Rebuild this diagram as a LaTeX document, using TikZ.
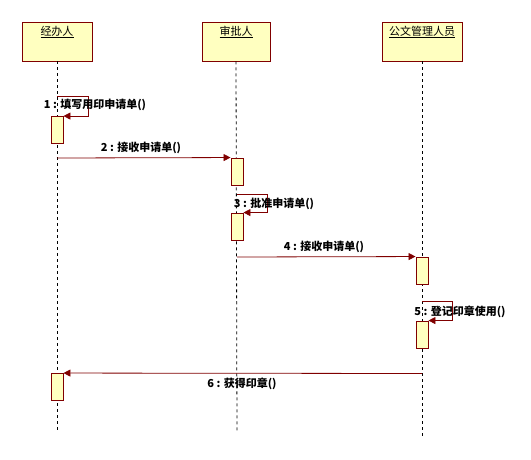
\documentclass[tikz,border=0pt]{standalone}
\usepackage{fontspec}
\setmainfont{Noto Sans CJK SC}
\usetikzlibrary{arrows.meta}

\begin{document}
\begin{tikzpicture}[x=1pt,y=-1pt,
	obj/.style={draw=umlred, fill=umlfill, line width=0.9pt, minimum height=39pt, inner sep=0pt},
	act/.style={draw=umlred, fill=umlfill, line width=0.9pt, minimum width=12pt, minimum height=27pt, inner sep=0pt},
	life/.style={dashed, dash pattern=on 3pt off 3pt, line width=0.8pt},
	msg/.style={->, >={Triangle[length=7pt,width=7pt]}, color=umlred, line width=0.8pt},
	ttl/.style={font=\fontsize{11}{12}\selectfont, inner sep=0pt},
	lbl/.style={font=\fontsize{11}{12}\selectfont\bfseries, inner sep=0pt}]
	\definecolor{umlred}{RGB}{128,0,0}
	\definecolor{umlfill}{RGB}{255,255,192}
	\useasboundingbox (0,0) rectangle (531,460);

	% objects
	\node[obj, minimum width=70pt](jb) at (57,41.5) {};\node[ttl](t1) at (57,32) {\underline{经办人}};
	\node[obj, minimum width=68pt](sp) at (236,41.5) {};\node[ttl](t2) at (236,32) {\underline{审批人}};
	\node[obj, minimum width=80pt](gw) at (422,41.5) {};\node[ttl](t3) at (422,32) {\underline{公文管理人员}};

	% lifelines
	\coordinate(e1) at (57,430);
	\coordinate(e2) at (237,432);
	\coordinate(e3) at (422,437);
	\draw[life](jb.south) -- (e1);
	\draw[life](sp.south) -- (e2);
	\draw[life](gw.south) -- (e3);

	% activations
	\node[act](a1) at (57,130) {};
	\node[act](a2) at (237,171.5) {};
	\node[act](a3) at (237,226.5) {};
	\node[act](a4) at (422,270.5) {};
	\node[act](a5) at (422,334.5) {};
	\node[act](a6) at (57,387) {};

	% messages
	\coordinate(s1) at (57,96);
	\coordinate(m2) at (57,158);
	\coordinate(s3) at (237,194);
	\coordinate(m4) at (237,257);
	\coordinate(s5) at (422,301);
	\coordinate(m6) at (422,373.5);
	\draw[msg](s1) -- ++(31,0) |- (a1.north east);
	\draw[msg](m2) -- (a2.north west);
	\draw[msg](s3) -- ++(30,0) |- (a3.north east);
	\draw[msg](m4) -- (a4.north west);
	\draw[msg](s5) -- ++(30,0) |- (a5.north east);
	\draw[msg](m6) -- (a6.north east);

	\node[lbl](l1) at (95,105) {1 : 填写用印申请单()};
	\node[lbl](l2) at (141,148) {2 : 接收申请单()};
	\node[lbl](l3) at (274,204) {3 : 批准申请单()};
	\node[lbl](l4) at (324,247) {4 : 接收申请单()};
	\node[lbl](l5) at (460,312) {5 : 登记印章使用()};
	\node[lbl](l6) at (242,384) {6 : 获得印章()};
\end{tikzpicture}
\end{document}
